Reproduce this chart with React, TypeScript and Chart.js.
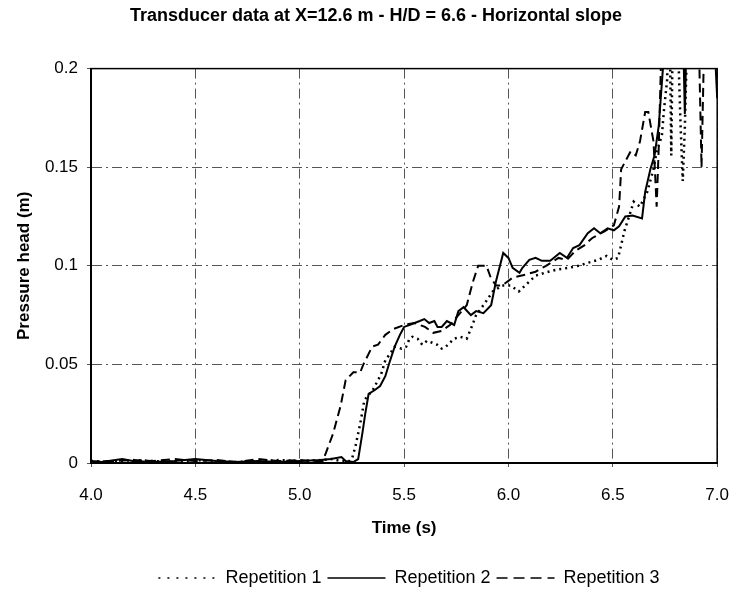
import React, { useEffect, useRef } from "react";
import { Chart, registerables } from "chart.js";

Chart.register(...registerables);

const chartTitle = "Transducer data at X=12.6 m - H/D = 6.6 - Horizontal slope";
const xAxisTitle = "Time (s)";
const yAxisTitle = "Pressure head (m)";
const seriesNames = ["Repetition 1", "Repetition 2", "Repetition 3"];
const xTickValues = [4.0, 4.5, 5.0, 5.5, 6.0, 6.5, 7.0];
const yTickValues = [0, 0.05, 0.1, 0.15, 0.2];

// Repetition 1 (dotted)
const rep1Time = [
  4.0, 4.1, 4.2, 4.3, 4.4, 4.5, 4.6, 4.7, 4.8, 4.9, 5.0, 5.1, 5.15, 5.2, 5.24,
  5.25, 5.267, 5.29, 5.31, 5.35, 5.375, 5.39, 5.41, 5.43, 5.455, 5.488, 5.51,
  5.526, 5.54, 5.565, 5.587, 5.61, 5.635, 5.658, 5.68, 5.7, 5.72, 5.738, 5.77,
  5.8, 5.82, 5.845, 5.88, 5.925, 5.97, 6.01, 6.05, 6.08, 6.13, 6.175, 6.23,
  6.29, 6.335, 6.38, 6.43, 6.47, 6.5, 6.525, 6.54, 6.555, 6.575, 6.6, 6.63,
  6.665, 6.695, 6.71, 6.735, 6.745, 6.76, 6.77, 6.775, 6.78, 6.785, 6.795,
  6.81, 6.825, 6.835, 6.845, 6.86, 6.9, 7.0,
];
const rep1Head = [
  0.001, 0.0005, 0.0015, 0.001, 0.0005, 0.0015, 0.001, 0.0005, 0.001, 0.0015,
  0.001, 0.0015, 0.002, 0.001, 0.001, 0.002, 0.0085, 0.02, 0.032, 0.037, 0.042,
  0.045, 0.052, 0.055, 0.059, 0.058, 0.059, 0.063, 0.064, 0.063, 0.06, 0.062,
  0.061, 0.06, 0.058, 0.059, 0.061, 0.063, 0.064, 0.063, 0.068, 0.075, 0.08,
  0.087, 0.09, 0.09, 0.087, 0.09, 0.095, 0.0965, 0.098, 0.099, 0.1, 0.1015,
  0.103, 0.105, 0.103, 0.104, 0.1105, 0.1175, 0.124, 0.1325, 0.13, 0.1375,
  0.149, 0.158, 0.166, 0.179, 0.194, 0.23, 0.2, 0.156, 0.2, 0.23, 0.22, 0.17,
  0.143, 0.17, 0.23, 0.25, 0.25,
];

// Repetition 2 (solid)
const rep2Time = [
  4.0, 4.05, 4.15, 4.2, 4.3, 4.4, 4.5, 4.6, 4.7, 4.8, 4.9, 5.0, 5.1, 5.15, 5.2,
  5.22, 5.257, 5.28, 5.3, 5.314, 5.33, 5.36, 5.385, 5.41, 5.43, 5.455, 5.48,
  5.5, 5.525, 5.55, 5.575, 5.597, 5.62, 5.645, 5.66, 5.68, 5.705, 5.74, 5.76,
  5.785, 5.82, 5.845, 5.88, 5.917, 5.94, 5.975, 6.0, 6.02, 6.053, 6.067, 6.1,
  6.13, 6.16, 6.2, 6.246, 6.28, 6.31, 6.34, 6.38, 6.41, 6.44, 6.475, 6.505,
  6.53, 6.56, 6.595, 6.64, 6.655, 6.68, 6.7, 6.72, 6.74, 6.76, 6.83, 6.845,
  6.86, 6.97, 7.0,
];
const rep2Head = [
  0.001, 0.0005, 0.002, 0.001, 0.0005, 0.001, 0.002, 0.001, 0.0005, 0.001,
  0.0005, 0.001, 0.0015, 0.002, 0.003, 0.001, 0.0005, 0.002, 0.015, 0.025,
  0.035, 0.037, 0.039, 0.044, 0.051, 0.059, 0.065, 0.069, 0.07, 0.071, 0.072,
  0.073, 0.071, 0.072, 0.069, 0.069, 0.072, 0.07, 0.077, 0.079, 0.075, 0.077,
  0.076, 0.08, 0.092, 0.1065, 0.104, 0.099, 0.0965, 0.099, 0.103, 0.104,
  0.1025, 0.1025, 0.1065, 0.104, 0.109, 0.1105, 0.1165, 0.119, 0.1165, 0.119,
  0.118, 0.12, 0.125, 0.1255, 0.124, 0.1375, 0.149, 0.156, 0.171, 0.2, 0.25,
  0.25, 0.177, 0.25, 0.25, 0.185,
];

// Repetition 3 (dashed)
const rep3Time = [
  4.0, 4.1, 4.2, 4.3, 4.4, 4.5, 4.6, 4.7, 4.8, 4.9, 5.0, 5.05, 5.11, 5.125,
  5.16, 5.196, 5.22, 5.257, 5.29, 5.305, 5.347, 5.375, 5.41, 5.45, 5.5, 5.55,
  5.6, 5.64, 5.68, 5.72, 5.76, 5.8, 5.83, 5.855, 5.895, 5.915, 5.94, 5.97,
  6.02, 6.08, 6.13, 6.18, 6.24, 6.28, 6.32, 6.365, 6.4, 6.46, 6.505, 6.53,
  6.54, 6.555, 6.585, 6.61, 6.63, 6.655, 6.67, 6.695, 6.71, 6.72, 6.735, 6.9,
  6.915, 6.925, 6.935, 6.95, 7.0,
];
const rep3Head = [
  0.0005, 0.001, 0.0015, 0.001, 0.002, 0.001, 0.0015, 0.0005, 0.002, 0.001,
  0.0015, 0.001, 0.001, 0.005, 0.015, 0.029, 0.042, 0.046, 0.046, 0.05, 0.059,
  0.06, 0.065, 0.068, 0.07, 0.071, 0.069, 0.066, 0.067, 0.07, 0.075, 0.08,
  0.092, 0.1, 0.1, 0.094, 0.09, 0.09, 0.094, 0.0955, 0.097, 0.1, 0.104, 0.103,
  0.1075, 0.1105, 0.114, 0.1175, 0.1205, 0.13, 0.149, 0.152, 0.158, 0.156,
  0.163, 0.178, 0.178, 0.163, 0.13, 0.16, 0.22, 0.25, 0.2, 0.15, 0.2, 0.25,
  0.25,
];

const FONT = "'Liberation Sans', Arial, Helvetica, sans-serif";
const FS = 17;
const FS_BIG = 18;

const lineDashes = [[2, 4], [], [9, 5]];
const lineWidths = [2.5, 2, 2];
const legendDashes = [[2, 7], [], [11, 6]];

const toPoints = (t: number[], v: number[]) => t.map((x, i) => ({ x, y: v[i] }));

const frameBorder = {
  id: "frameBorder",
  afterLayout(chart: any) {
    const lg = chart.legend;
    if (lg) {
      lg.left += 45;
      lg.right += 45;
      lg.top += 7;
      lg.bottom += 7;
    }
    const tb = chart.titleBlock;
    if (tb) {
      tb.left += 12;
      tb.right += 12;
    }
  },
  afterDatasetsDraw(chart: any) {
    const { ctx, chartArea } = chart;
    ctx.save();
    ctx.strokeStyle = "#000";
    ctx.lineWidth = 1.5;
    ctx.setLineDash([]);
    ctx.strokeRect(
      chartArea.left,
      chartArea.top,
      chartArea.right - chartArea.left,
      chartArea.bottom - chartArea.top
    );
    ctx.restore();
  },
};

export default function App() {
  const canvasRef = useRef<HTMLCanvasElement | null>(null);

  useEffect(() => {
    if (!canvasRef.current) return;
    const common = {
      borderColor: "#000",
      backgroundColor: "#000",
      pointRadius: 0,
      pointHoverRadius: 0,
      tension: 0,
      fill: false,
      borderCapStyle: "butt" as const,
    };
    const series = [
      [rep1Time, rep1Head],
      [rep2Time, rep2Head],
      [rep3Time, rep3Head],
    ];
    const chart = new Chart(canvasRef.current, {
      type: "line",
      data: {
        datasets: series.map(([t, v], i) => ({
          ...common,
          label: seriesNames[i],
          data: toPoints(t, v),
          borderWidth: lineWidths[i],
          borderDash: lineDashes[i],
        })),
      },
      options: {
        animation: false,
        responsive: false,
        devicePixelRatio: 1,
        layout: { padding: { left: 0, right: 19, top: 0, bottom: 0 } },
        plugins: {
          title: {
            display: true,
            text: chartTitle,
            color: "#000",
            font: { family: FONT, size: FS_BIG, weight: "bold" },
            padding: { top: 5, bottom: 42 },
          },
          legend: {
            display: true,
            position: "bottom",
            labels: {
              usePointStyle: true,
              pointStyleWidth: 58,
              boxHeight: 10,
              padding: 6,
              color: "#000",
              font: { family: FONT, size: FS_BIG },
              generateLabels: (c: any) =>
                c.data.datasets.map((ds: any, i: number) => ({
                  text: ds.label,
                  fillStyle: "#000",
                  strokeStyle: "#000",
                  fontColor: "#000",
                  lineWidth: 1.5,
                  lineDash: legendDashes[i],
                  lineCap: "butt",
                  pointStyle: "line",
                  hidden: false,
                  datasetIndex: i,
                })),
            },
          },
          tooltip: { enabled: false },
        },
        scales: {
          x: {
            type: "linear",
            min: 4,
            max: 7,
            afterFit: (s: any) => {
              s.height = 93;
            },
            afterBuildTicks: (s: any) => {
              s.ticks = xTickValues.map((v) => ({ value: v }));
            },
            ticks: {
              color: "#000",
              font: { family: FONT, size: FS },
              padding: 18,
              maxRotation: 0,
              callback: (v: any) => Number(v).toFixed(1),
            },
            grid: {
              color: "#555",
              lineWidth: 1,
              tickLength: 4,
            },
            border: { display: true, color: "#000", width: 2, dash: [10, 4, 2, 4] },
            title: {
              display: true,
              text: xAxisTitle,
              color: "#000",
              font: { family: FONT, size: FS, weight: "bold" },
              padding: { top: 0, bottom: 17 },
            },
          },
          y: {
            type: "linear",
            min: 0,
            max: 0.2,
            afterFit: (s: any) => {
              s.width = 91;
            },
            afterBuildTicks: (s: any) => {
              s.ticks = yTickValues.map((v) => ({ value: v }));
            },
            ticks: {
              color: "#000",
              font: { family: FONT, size: FS },
              padding: 9,
              callback: (v: any) => String(Math.round(Number(v) * 100) / 100),
            },
            grid: {
              color: "#555",
              lineWidth: 1,
              tickLength: 4,
            },
            border: { display: true, color: "#000", width: 2, dash: [10, 4, 2, 4] },
            title: {
              display: true,
              text: yAxisTitle,
              color: "#000",
              font: { family: FONT, size: FS, weight: "bold" },
              padding: { top: 14, bottom: 0 },
            },
          },
        },
      },
      plugins: [frameBorder],
    });
    return () => chart.destroy();
  }, []);

  return (
    <div style={{ position: "fixed", left: 0, top: 0, width: 747, height: 590, background: "#fff" }}>
      <canvas ref={canvasRef} width={747} height={590} style={{ width: 747, height: 590 }} />
    </div>
  );
}
